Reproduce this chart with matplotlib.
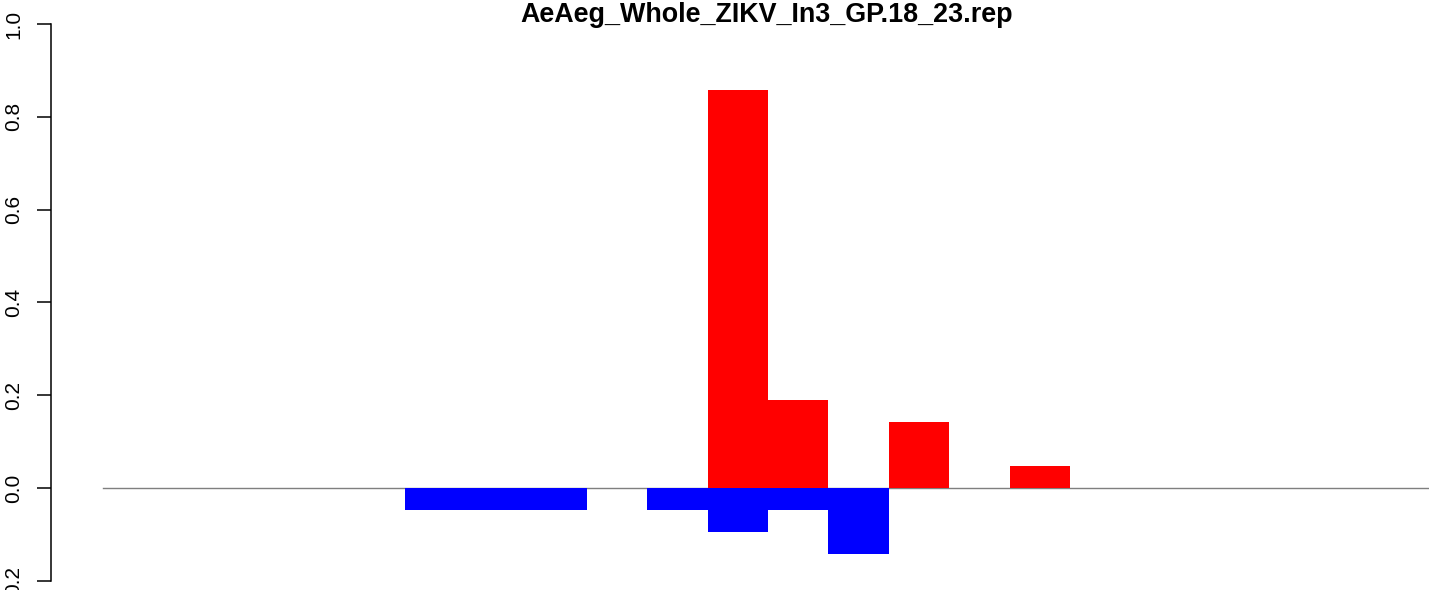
import numpy as np
import matplotlib
matplotlib.use("Agg")
import matplotlib.pyplot as plt

plt.rcParams['font.family'] = ['Liberation Sans', 'DejaVu Sans']

title = "AeAeg_Whole_ZIKV_In3_GP.18_23.rep"

# bar index (22 bins), fractions of reads
bins = np.arange(22)
pos_vals = np.zeros(22)
neg_vals = np.zeros(22)
pos_idx = [10, 11, 13, 15]
pos_frac = [18 / 21, 4 / 21, 3 / 21, 1 / 21]
neg_idx = [5, 6, 7, 9, 10, 11, 12]
neg_frac = [1 / 21, 1 / 21, 1 / 21, 1 / 21, 2 / 21, 1 / 21, 3 / 21]
pos_vals[pos_idx] = pos_frac
neg_vals[neg_idx] = neg_frac

y_ticks = [-0.2, 0.0, 0.2, 0.4, 0.6, 0.8, 1.0]
y_ticklabels = ["0.2", "0.0", "0.2", "0.4", "0.6", "0.8", "1.0"]

W, H = 1429, 590
fig = plt.figure(figsize=(W / 100, H / 100), dpi=100)

bar_px = 60.45
left_px, right_px = 51, 1429
top_px, bot_px = 24, 580.8
ax = fig.add_axes([left_px / W, (H - bot_px) / H, (right_px - left_px) / W, (bot_px - top_px) / H])

ax.axhline(0, color='#7f7f7f', linewidth=1.0, xmin=(103 - left_px) / (right_px - left_px), zorder=1)
ax.bar(bins, pos_vals, width=1.0, align='edge', color='#ff0000', linewidth=0, zorder=2)
ax.bar(bins, -neg_vals, width=1.0, align='edge', color='#0000ff', linewidth=0, zorder=2)

ax.set_xlim((left_px - 103) / bar_px, (right_px - 103) / bar_px)
ax.set_ylim(-0.2, 1.0)

for s in ['top', 'right', 'bottom']:
    ax.spines[s].set_visible(False)
ax.spines['left'].set_linewidth(1.1)
ax.set_xticks([])
ax.set_yticks(y_ticks)
ax.set_yticklabels(y_ticklabels, rotation=90, va='center', fontsize=15)
ax.tick_params(axis='y', length=10, width=1.1, pad=10)

fig.text(767 / W, 1 - 22 / H, title, ha='center', va='baseline', fontsize=19.4, fontweight='bold')

fig.savefig("out.png", dpi=100)
